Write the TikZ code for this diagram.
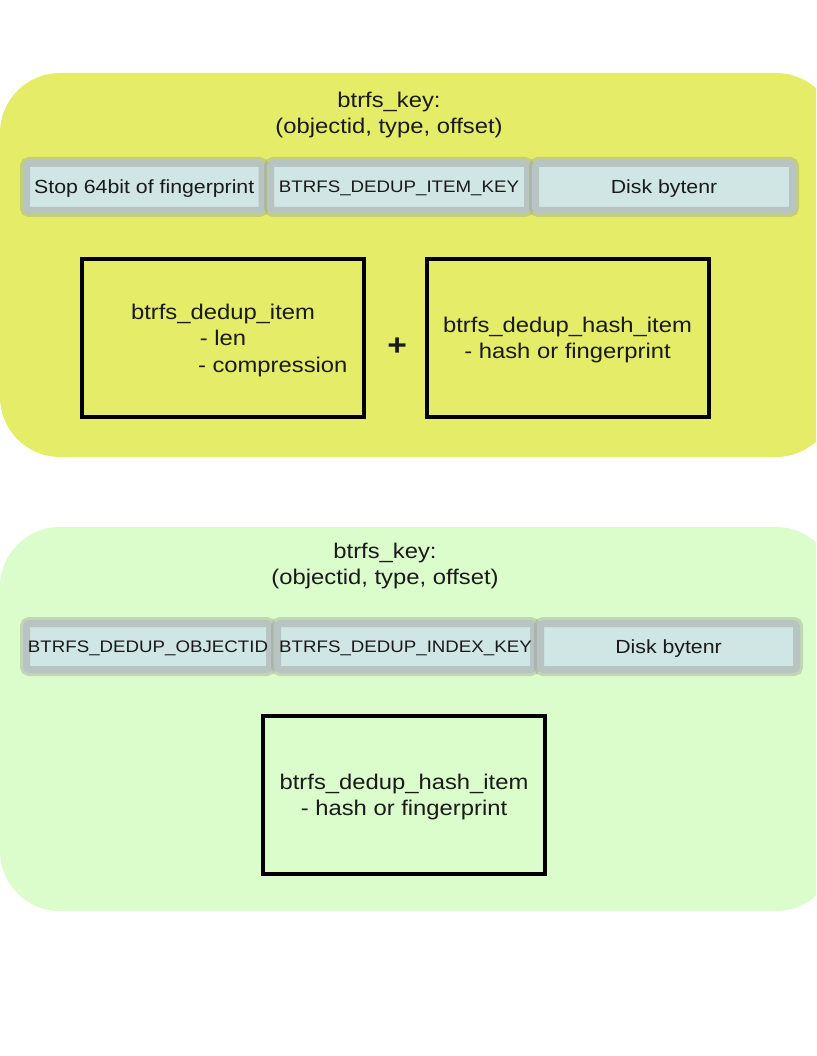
\documentclass[tikz,border=0pt]{standalone}
\usepackage{fontspec}
\setmainfont{Liberation Sans}[FakeStretch=1.12]
\usetikzlibrary{positioning,calc}
\definecolor{keypanel}{RGB}{228,236,104}
\definecolor{indexpanel}{RGB}{219,253,203}
\definecolor{keyfill}{RGB}{208,230,228}
\definecolor{keygray}{RGB}{184,196,194}
\definecolor{keyband}{RGB}{150,160,150}
\definecolor{inktext}{RGB}{26,26,26}
\tikzstyle{panel} = [rectangle, rounded corners=60pt, minimum width=836pt,
    minimum height=384pt, inner sep=0pt, outer sep=0pt]
\tikzstyle{keytitle} = [align=center, text=inktext,
    font=\fontsize{21.25}{26}\selectfont]
\tikzstyle{keycell} = [rectangle, fill=keyfill, draw=keygray, line width=7pt,
    rounded corners=3pt, inner sep=0pt, outer sep=0pt, minimum height=47pt,
    text depth=0pt, text=inktext, font=\fontsize{19}{22}\selectfont,
    preaction={draw=keyband, draw opacity=0.4, line width=13pt}]
\tikzstyle{smallkey} = [font=\fontsize{16.7}{20}\selectfont]
\tikzstyle{dedupbox} = [rectangle, draw=black, line width=4pt, minimum width=282pt,
    minimum height=158pt, inner sep=0pt, outer sep=0pt, align=center,
    text depth=0pt, text=inktext, font=\fontsize{21.25}{26.5}\selectfont]

\begin{document}
\begin{tikzpicture}[x=1pt,y=-1pt]
\useasboundingbox (0,0) rectangle (816,1056);
\clip (0,0) rectangle (816,1056);

\node [panel, fill=keypanel] (itempanel) at (418,265) {};
\node [keytitle] (itemtitle) at (389,115) {btrfs\_key:\\(objectid, type, offset)};
\node [keycell, minimum width=235.5pt] (fingerprint) at (144.25,187) {Stop 64bit of fingerprint};
\node [keycell, smallkey, minimum width=257pt, right=8.5pt of fingerprint] (itemkey) {BTRFS\_DEDUP\_ITEM\_KEY};
\node [keycell, minimum width=257pt, right=8pt of itemkey] (itembytenr) {Disk bytenr};
\node [dedupbox] (dedupitem) at (223,338) {btrfs\_dedup\_item\\- len\\\makebox[50pt][l]{- compression}};
\node [dedupbox, right=62.5pt of dedupitem] (hashitem) {btrfs\_dedup\_hash\_item\\- hash or fingerprint};
\node [text=inktext, font=\bfseries\fontsize{30}{30}\selectfont] (plus)
    at ($(dedupitem.east)!0.5!(hashitem.west)+(2,9)$) {+};

\node [panel, fill=indexpanel] (indexpanel) at (418,719) {};
\node [keytitle] (indextitle) at (385,566) {btrfs\_key:\\(objectid, type, offset)};
\node [keycell, smallkey, minimum width=243pt, minimum height=46pt] (objectid) at (148,646.5) {BTRFS\_DEDUP\_OBJECTID};
\node [keycell, smallkey, minimum width=256pt, minimum height=46pt, right=8pt of objectid] (indexkey) {BTRFS\_DEDUP\_INDEX\_KEY};
\node [keycell, minimum width=256pt, minimum height=46pt, right=7pt of indexkey] (indexbytenr) {Disk bytenr};
\node [dedupbox] (indexhash) at (404,795) {btrfs\_dedup\_hash\_item\\- hash or fingerprint};
\end{tikzpicture}
\end{document}
